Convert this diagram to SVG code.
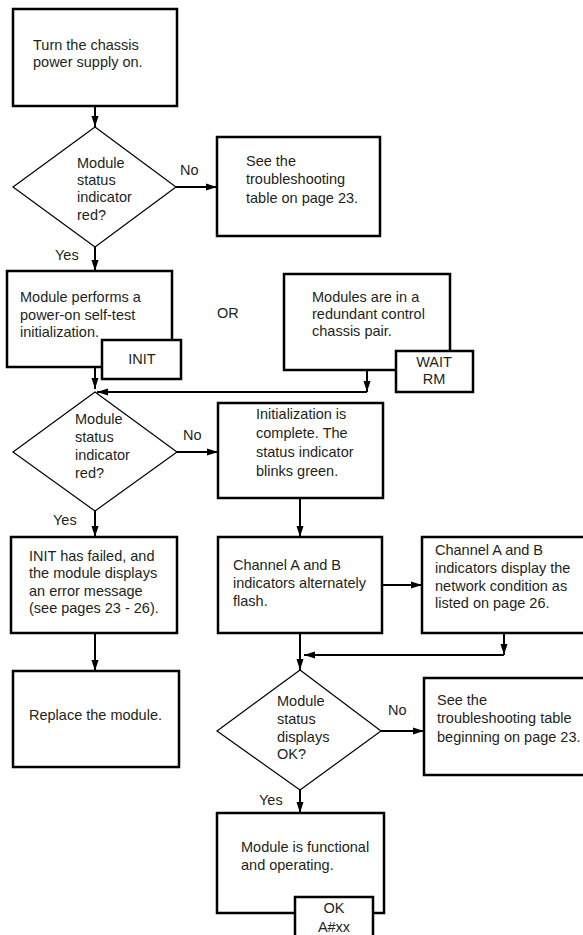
<svg xmlns="http://www.w3.org/2000/svg" width="583" height="935" viewBox="0 0 583 935">
<style>
text{font-family:"Liberation Sans",Arial,sans-serif;font-size:14.5px;fill:#231f20}
.box{fill:#fff;stroke:#000;stroke-width:2.5}
.dia{fill:#fff;stroke:#000;stroke-width:1.2}
.c{fill:none;stroke:#000;stroke-width:2}
.mid{text-anchor:middle}
</style>
<defs>
<marker id="ah" markerUnits="userSpaceOnUse" markerWidth="12" markerHeight="8" refX="11" refY="4" orient="auto">
<path d="M0,0.5 L11,4 L0,7.5 z" fill="#000"/>
</marker>
</defs>
<rect width="583" height="935" fill="#fff"/>
<g id="connectors">
<path class="c" d="M95,106 V127" marker-end="url(#ah)"/>
<path class="c" d="M176,187 H217" marker-end="url(#ah)"/>
<path class="c" d="M95,247 V271" marker-end="url(#ah)"/>
<path class="c" d="M95,367 V389" marker-end="url(#ah)"/>
<path class="c" d="M367,370 V392" marker-end="url(#ah)"/>
<path class="c" d="M367,392 H97" marker-end="url(#ah)"/>
<path class="c" d="M177,452 H218" marker-end="url(#ah)"/>
<path class="c" d="M300,498 V537" marker-end="url(#ah)"/>
<path class="c" d="M95,511 V537" marker-end="url(#ah)"/>
<path class="c" d="M95,633 V671" marker-end="url(#ah)"/>
<path class="c" d="M382,585 H422" marker-end="url(#ah)"/>
<path class="c" d="M504,633 V655" marker-end="url(#ah)"/>
<path class="c" d="M504,655 H304" marker-end="url(#ah)"/>
<path class="c" d="M300,633 V670" marker-end="url(#ah)"/>
<path class="c" d="M381,731 H424" marker-end="url(#ah)"/>
<path class="c" d="M300,790 V813" marker-end="url(#ah)"/>
</g>
<g id="labels">
<text x="180" y="175">No</text>
<text x="55" y="260">Yes</text>
<text x="217" y="318">OR</text>
<text x="183" y="440">No</text>
<text x="53" y="525">Yes</text>
<text x="388" y="715">No</text>
<text x="259" y="805">Yes</text>
</g>
<g id="n1">
<rect class="box" x="13" y="9" width="164" height="97"/>
<text x="33" y="50">Turn the chassis</text>
<text x="33" y="67">power supply on.</text>
</g>
<g id="d1">
<polygon class="dia" points="95,127 176,187 95,247 13,187"/>
<text x="77" y="168">Module</text>
<text x="77" y="185">status</text>
<text x="77" y="202">indicator</text>
<text x="77" y="220">red?</text>
</g>
<g id="n2">
<rect class="box" x="217" y="137" width="163" height="99"/>
<text x="246" y="166">See the</text>
<text x="246" y="184">troubleshooting</text>
<text x="246" y="203">table on page 23.</text>
</g>
<g id="n3">
<rect class="box" x="7" y="271" width="165" height="96"/>
<text x="20" y="302">Module performs a</text>
<text x="20" y="320">power-on self-test</text>
<text x="20" y="337">initialization.</text>
</g>
<g id="init">
<rect class="box" x="102" y="340" width="79" height="39"/>
<text class="mid" x="142" y="364">INIT</text>
</g>
<g id="n4">
<rect class="box" x="284" y="274" width="166" height="96"/>
<text x="312" y="302">Modules are in a</text>
<text x="312" y="319">redundant control</text>
<text x="312" y="336">chassis pair.</text>
</g>
<g id="waitrm">
<rect class="box" x="396" y="351" width="77" height="41"/>
<text class="mid" x="434" y="367">WAIT</text>
<text class="mid" x="434" y="384">RM</text>
</g>
<g id="d2">
<polygon class="dia" points="95,392 177,452 95,511 13,452"/>
<text x="75" y="424">Module</text>
<text x="75" y="442">status</text>
<text x="75" y="460">indicator</text>
<text x="75" y="478">red?</text>
</g>
<g id="n5">
<rect class="box" x="218" y="403" width="165" height="95"/>
<text x="256" y="419">Initialization is</text>
<text x="256" y="438">complete. The</text>
<text x="256" y="457">status indicator</text>
<text x="256" y="476">blinks green.</text>
</g>
<g id="n6">
<rect class="box" x="11" y="537" width="166" height="96"/>
<text x="29" y="561">INIT has failed, and</text>
<text x="29" y="578">the module displays</text>
<text x="29" y="596">an error message</text>
<text x="29" y="613">(see pages 23 - 26).</text>
</g>
<g id="n7">
<rect class="box" x="218" y="537" width="164" height="96"/>
<text x="233" y="570">Channel A and B</text>
<text x="233" y="588">indicators alternately</text>
<text x="233" y="606">flash.</text>
</g>
<g id="n8">
<rect class="box" x="422" y="537" width="175" height="96"/>
<text x="435" y="555">Channel A and B</text>
<text x="435" y="573">indicators display the</text>
<text x="435" y="591">network condition as</text>
<text x="435" y="608">listed on page 26.</text>
</g>
<g id="n9">
<rect class="box" x="13" y="671" width="166" height="96"/>
<text x="29" y="720">Replace the module.</text>
</g>
<g id="d3">
<polygon class="dia" points="300,670 381,731 300,790 217,731"/>
<text x="277" y="706">Module</text>
<text x="277" y="724">status</text>
<text x="277" y="742">displays</text>
<text x="277" y="759">OK?</text>
</g>
<g id="n10">
<rect class="box" x="424" y="678" width="175" height="97"/>
<text x="437" y="705">See the</text>
<text x="437" y="723">troubleshooting table</text>
<text x="437" y="742">beginning on page 23.</text>
</g>
<g id="n11">
<rect class="box" x="217" y="813" width="167" height="100"/>
<text x="241" y="852">Module is functional</text>
<text x="241" y="870">and operating.</text>
</g>
<g id="okaxx">
<rect class="box" x="295" y="897" width="78" height="45"/>
<text class="mid" x="334" y="913">OK</text>
<text class="mid" x="334" y="932">A#xx</text>
</g>
</svg>
